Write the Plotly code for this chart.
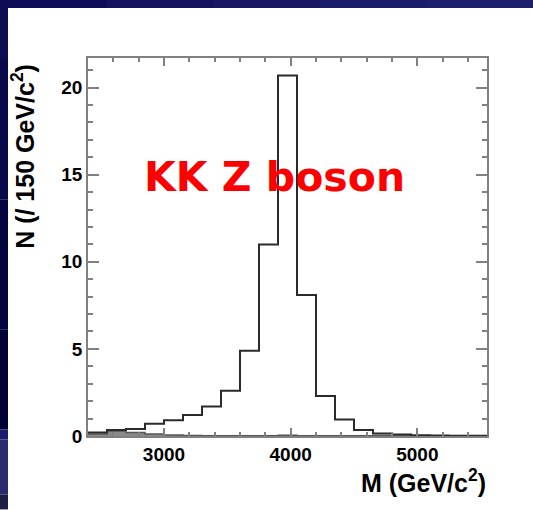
import plotly.graph_objects as go

# ---- data ----
bin_edges = [2400, 2550, 2700, 2850, 3000, 3150, 3300, 3450, 3600, 3750, 3900,
             4050, 4200, 4350, 4500, 4650, 4800, 4950, 5100, 5250, 5400, 5550]
signal_counts = [0.2, 0.35, 0.4, 0.7, 0.9, 1.2, 1.7, 2.6, 4.9, 11.0, 20.7,
                 8.1, 2.3, 0.95, 0.35, 0.15, 0.08, 0.05, 0.03, 0.02, 0.01]
background_counts = [0.12, 0.28, 0.2, 0.12, 0.06, 0.03, 0.02, 0.01, 0.01, 0.02, 0.04,
                     0.02, 0.01, 0.01, 0.01, 0.03, 0.07, 0.02, 0.01, 0.0, 0.0]
x_title = "M (GeV/c<sup>2</sup>)"
y_title = "N (/ 150 GeV/c<sup>2</sup>)"
label = "KK Z boson"

W, H = 533, 510
L, R, T, B = 88, 487, 58, 436.5


def px(x):
    return (x - L) / (R - L)


def py(y):
    return (B - y) / (B - T)


fig = go.Figure()

fig.add_trace(go.Scatter(
    x=bin_edges, y=background_counts + [background_counts[-1]],
    mode="lines", line=dict(shape="hv", color="#555555", width=1.5),
    fill="tozeroy", fillcolor="#8a8a8a", hoverinfo="skip", showlegend=False))

fig.add_trace(go.Scatter(
    x=bin_edges, y=signal_counts + [signal_counts[-1]],
    mode="lines", line=dict(shape="hv", color="#2a2a2a", width=2),
    hoverinfo="skip", showlegend=False))

# background slide strips (approximate gradient)
shapes = []
top_cols = ["#0e0e58", "#131360", "#171766", "#1b1b6b", "#1e1e6f"]
seg = W / len(top_cols)
for i, c in enumerate(top_cols):
    shapes.append(dict(type="rect", xref="paper", yref="paper", layer="below",
                       x0=px(i * seg), x1=px((i + 1) * seg + 1), y0=py(8), y1=py(0),
                       fillcolor=c, line=dict(width=0)))
left_bands = [(0, 60, "#0c0c52"), (60, 200, "#08084a"), (200, 330, "#04043e"),
              (330, 430, "#010134"), (430, 440, "#1c1c6c"), (440, 495, "#2a2a6e"),
              (495, 510, "#1e1e44")]
for y0, y1, c in left_bands:
    shapes.append(dict(type="rect", xref="paper", yref="paper", layer="below",
                       x0=px(0), x1=px(8), y0=py(y1), y1=py(y0),
                       fillcolor=c, line=dict(width=0)))

annotations = [
    dict(text=label, x=px(274), y=py(177), xref="paper", yref="paper",
         xanchor="center", yanchor="middle", showarrow=False,
         font=dict(family="DejaVu Sans", size=41, color="#ff0000", weight="bold")),
    dict(text=y_title, x=px(23), y=py(157), xref="paper", yref="paper",
         xanchor="center", yanchor="middle", showarrow=False, textangle=-90,
         font=dict(family="Liberation Sans", size=25, color="#000000", weight="bold")),
    dict(text=x_title, x=px(488), y=py(482), xref="paper", yref="paper",
         xanchor="right", yanchor="middle", showarrow=False,
         font=dict(family="Liberation Sans", size=25, color="#000000", weight="bold")),
]

axis_common = dict(showline=True, linecolor="#808080", linewidth=1.5, mirror="allticks",
                   ticks="inside", tickcolor="#808080", tickwidth=1.5,
                   showgrid=False, zeroline=False,
                   tickfont=dict(family="Liberation Sans", size=19, color="#000000", weight="bold"))

fig.update_layout(
    width=W, height=H,
    margin=dict(l=L, r=W - R, t=T, b=H - B, pad=0),
    paper_bgcolor="#ffffff", plot_bgcolor="#ffffff",
    shapes=shapes, annotations=annotations,
    xaxis=dict(range=[2400, 5550], tickvals=[3000, 4000, 5000], ticklen=8,
               minor=dict(dtick=200, tick0=2400, ticks="inside", ticklen=4.5,
                          tickcolor="#808080", tickwidth=1.5),
               **axis_common),
    yaxis=dict(range=[0, 21.7], tickvals=[0, 5, 10, 15, 20], ticklen=11,
               minor=dict(dtick=1, tick0=0, ticks="inside", ticklen=5.5,
                          tickcolor="#808080", tickwidth=1.5),
               **axis_common),
)

fig.write_html("out.html")
